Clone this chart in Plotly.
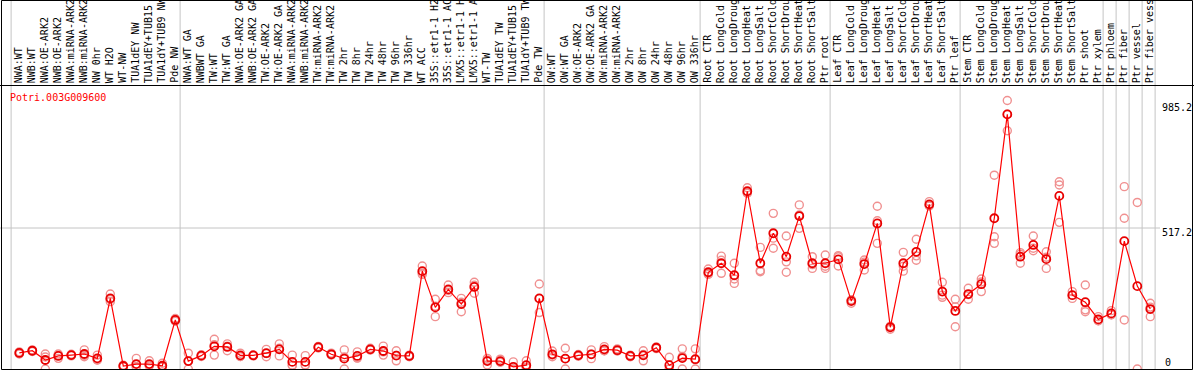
import plotly.graph_objects as go

gene = "Potri.003G009600"

labels = [
    "NWA:WT", "NWB:WT", "NWA:OE-ARK2", "NWB:OE-ARK2", "NWA:miRNA-ARK2", "NWB:miRNA-ARK2",
    "NW 0hr", "WT H2O", "WT-NW", "TUA1dEY NW", "TUA1dEY+TUB15", "TUA1dY+TUB9 NW", "Pde NW",
    "NWA:WT GA", "NWBWT GA", "TW:WT", "TW:WT GA", "NWA:OE-ARK2 GA", "NWB:OE-ARK2 GA",
    "TW:OE-ARK2", "TW:OE-ARK2 GA", "NWA:miRNA-ARK2", "NWB:miRNA-ARK2", "TW:miRNA-ARK2",
    "TW:miRNA-ARK2", "TW 2hr", "TW 8hr", "TW 24hr", "TW 48hr", "TW 96hr", "TW 336hr",
    "WT ACC", "35S::etr1-1 H2", "35S::etr1-1 AC", "LMX5::etr1-1 H", "LMX5::etr1-1 A",
    "WT-TW", "TUA1dEY TW", "TUA1dEY+TUB15", "TUA1dY+TUB9 TW", "Pde TW",
    "OW:WT", "OW:WT GA", "OW:OE-ARK2", "OW:OE-ARK2 GA", "OW:miRNA-ARK2", "OW:miRNA-ARK2",
    "OW 2hr", "OW 8hr", "OW 24hr", "OW 48hr", "OW 96hr", "OW 336hr",
    "Root CTR", "Root LongCold", "Root LongDroug", "Root LongHeat", "Root LongSalt",
    "Root ShortCold", "Root ShortDrou", "Root ShortHeat", "Root ShortSalt", "Ptr root",
    "Leaf CTR", "Leaf LongCold", "Leaf LongDroug", "Leaf LongHeat", "Leaf LongSalt",
    "Leaf ShortCold", "Leaf ShortDrou", "Leaf ShortHeat", "Leaf ShortSalt", "Ptr leaf",
    "Stem CTR", "Stem LongCold", "Stem LongDroug", "Stem LongHeat", "Stem LongSalt",
    "Stem ShortCold", "Stem ShortDrou", "Stem ShortHeat", "Stem ShortSalt",
    "Ptr shoot", "Ptr xylem", "Ptr phloem", "Ptr fiber", "Ptr vessel", "Ptr fiber vess",
]

means = [
    59, 67, 33, 48, 51, 55, 39, 259, 11, 18, 18, 12, 180,
    29, 49, 83, 81, 50, 50, 58, 72, 26, 26, 80, 54, 38, 48, 72, 66, 49, 48,
    359, 226, 292, 238, 301, 29, 29, 8, 14, 259,
    54, 38, 50, 54, 72, 69, 48, 50, 78, 14, 40, 36,
    355, 388, 344, 652, 388, 498, 412, 561, 388, 388,
    402, 249, 385, 534, 153, 388, 430, 604, 284, 213,
    275, 311, 553, 934, 412, 455, 403, 635, 271, 245, 182, 204, 469, 304, 220,
]

rep_a = [
    55, 64, 55, 55, 48, 70, 51, 275, 8, 39, 30, 21, 175,
    58, 46, 109, 92, 58, 48, 72, 92, 51, 49, 77, 58, 70, 63, 76, 84, 67, 45,
    378, 256, 308, 259, 318, 39, 36, 26, 30, 312,
    66, 76, 47, 70, 82, 74, 45, 67, 75, 43, 74, 74,
    367, 414, 388, 665, 446, 571, 488, 602, 412, 418,
    416, 241, 400, 597, 146, 428, 476, 614, 318, 256,
    296, 330, 711, 985, 427, 488, 430, 687, 284, 308, 192, 214, 669, 611, 241,
]

rep_b = [
    59, 67, 0, 39, 51, 45, 33, 247, 11, 8, 12, 8, 180,
    0, 49, 51, 67, 46, 50, 45, 48, 14, 15, 80, 52, 0, 41, 70, 51, 30, 48,
    347, 192, 280, 210, 278, 15, 26, 0, 6, 207,
    45, 0, 50, 38, 67, 67, 48, 30, 78, 0, 0, 0,
    347, 351, 314, 645, 357, 443, 355, 516, 369, 369,
    378, 252, 363, 461, 156, 359, 399, 600, 263, 155,
    256, 284, 485, 874, 388, 434, 369, 675, 259, 210, 177, 199, 553, 0, 192,
]

rep_c = [
    63, 70, 44, 50, 54, 50, 33, 255, 14, 7, 12, 7, 185,
    29, 52, 89, 84, 46, 52, 57, 76, 13, 14, 83, 52, 44, 40, 70, 63, 50, 51,
    352, 230, 288, 245, 307, 33, 25, 0, 6, 258,
    51, 38, 53, 54, 67, 66, 51, 53, 81, 0, 46, 34,
    351, 399, 330, 646, 361, 480, 393, 565, 383, 377,
    412, 254, 392, 544, 157, 377, 415, 598, 271, 228,
    273, 319, 461, 935, 421, 443, 410, 538, 270, 217, 177, 199, 180, None, 227,
]

y_ticks = [985.2, 517.2, 0]
group_ends = [0, 13, 41, 53, 63, 73, 84, 85, 86, 87, 88]

W, H = 1194, 370
x_pos = list(range(1, len(labels) + 1))

# pixel mapping: x_px = 19.3 + 13*(i-1); y_px = 369 - 0.2726*v
x_lo = 1 - 19.3 / 13
x_hi = 1 + (W - 19.3) / 13
y_lo = -1 / 0.2726
y_hi = 369 / 0.2726

fig = go.Figure()

rx, ry = [], []
for reps in (rep_a, rep_b, rep_c):
    for xi, v in zip(x_pos, reps):
        if v is not None:
            rx.append(xi)
            ry.append(v)

fig.add_trace(go.Scatter(
    x=rx, y=ry, mode="markers", hoverinfo="skip",
    marker=dict(symbol="circle-open", size=8, color="#f09090", line=dict(width=1.4, color="#f09090")),
))
fig.add_trace(go.Scatter(
    x=x_pos, y=means, mode="lines+markers",
    line=dict(color="#ff0000", width=1.2),
    marker=dict(symbol="circle-open", size=8, color="#e80000", line=dict(width=1.8, color="#e80000")),
))

shapes = []
for g in group_ends:
    shapes.append(dict(type="line", xref="x", yref="paper", x0=g + 0.37, x1=g + 0.37, y0=0, y1=1,
                       line=dict(color="#c4c4c4", width=1), layer="below"))
shapes.append(dict(type="line", xref="paper", yref="y", x0=0, x1=1160 / W, y0=y_ticks[1], y1=y_ticks[1],
                   line=dict(color="#c4c4c4", width=1), layer="below"))
# separator under labels
shapes.append(dict(type="line", xref="paper", yref="paper", x0=0, x1=1, y0=1 - 85.5 / H, y1=1 - 85.5 / H,
                   line=dict(color="black", width=1)))
# frame
shapes.append(dict(type="rect", xref="paper", yref="paper", x0=1.5 / W, x1=1192.5 / W,
                   y0=1 - 369.5 / H, y1=1 - 0.5 / H, line=dict(color="black", width=1)))

annotations = []
font_mono = "DejaVu Sans Mono"
for xi, lab in zip(x_pos, labels):
    annotations.append(dict(
        x=xi, y=1 - 84 / H, xref="x", yref="paper", text=lab, textangle=-90,
        xanchor="center", yanchor="bottom", showarrow=False, xshift=-1,
        font=dict(family=font_mono, size=10, color="black"), borderpad=0,
    ))

annotations.append(dict(
    x=9 / W, y=1 - 90.5 / H, xref="paper", yref="paper", text=gene, xanchor="left", yanchor="top",
    showarrow=False, font=dict(family=font_mono, size=10, color="red"), borderpad=0,
))
shifts = [-1, 2, 13]
for v, s in zip(y_ticks, shifts):
    annotations.append(dict(
        x=1193 / W, y=v, xref="paper", yref="y", text=("%g" % v), xanchor="right" if v else "left",
        yanchor="top", yshift=s, showarrow=False, xshift=0 if v else -29,
        font=dict(family=font_mono, size=10, color="black"), borderpad=0,
    ))

fig.update_layout(
    width=W, height=H, margin=dict(l=0, r=0, t=0, b=0),
    paper_bgcolor="white", plot_bgcolor="white", showlegend=False,
    xaxis=dict(range=[x_lo, x_hi], visible=False, fixedrange=True),
    yaxis=dict(range=[y_lo, y_hi], visible=False, fixedrange=True),
    shapes=shapes, annotations=annotations,
)

fig.write_html(
    "out.html",
    config={"displayModeBar": False},
    post_script="document.body.style.margin='0';document.body.style.overflow='hidden';",
)
